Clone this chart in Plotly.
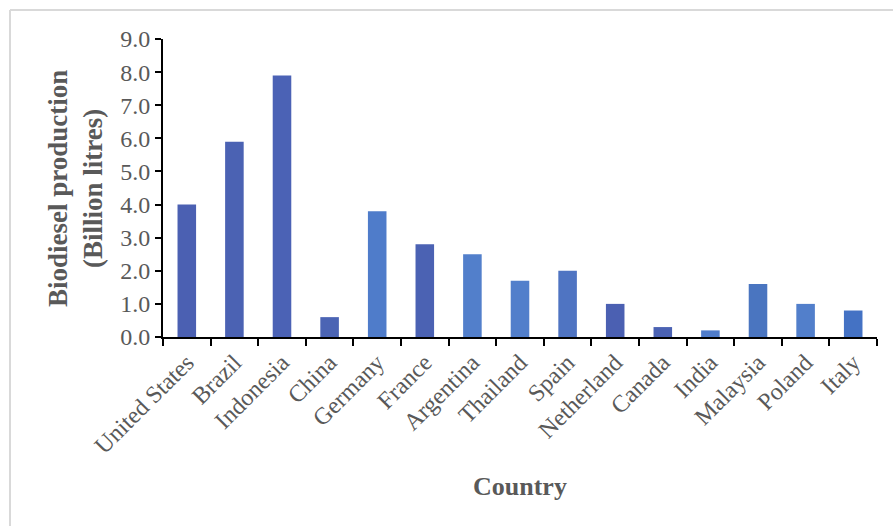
import plotly.graph_objects as go

countries = ["United States", "Brazil", "Indonesia", "China", "Germany", "France",
             "Argentina", "Thailand", "Spain", "Netherland", "Canada", "India",
             "Malaysia", "Poland", "Italy"]
production = [4.0, 5.9, 7.9, 0.6, 3.8, 2.8, 2.5, 1.7, 2.0, 1.0, 0.3, 0.2, 1.6, 1.0, 0.8]
bar_colors = ["#4b60b2", "#4b62b3", "#4b62b5", "#4b64b4", "#4f7cca", "#4b62b3",
              "#527fcb", "#527fcb", "#4f74c2", "#4b60b2", "#4b62b3", "#4f7cca",
              "#4a75c0", "#527fcb", "#4472c4"]
y_ticks = [0, 1, 2, 3, 4, 5, 6, 7, 8, 9]

W, H = 893, 526
L, R, T, B = 163, 16, 39, 189
pw, ph = W - L - R, H - T - B

fig = go.Figure(go.Bar(x=countries, y=production, marker=dict(color=bar_colors, line_width=0),
                       width=0.39))

fnt = "Liberation Serif, Times New Roman, serif"
fig.update_layout(
    width=W, height=H,
    margin=dict(l=L, r=R, t=T, b=B),
    paper_bgcolor="white", plot_bgcolor="rgba(0,0,0,0)",
    showlegend=False,
    font=dict(family=fnt, color="#595959", size=24),
    xaxis=dict(showline=True, linecolor="black", linewidth=2, ticks="outside",
               tickson="boundaries", ticklen=7, tickwidth=2, tickcolor="black",
               tickangle=-45, tickfont=dict(size=24, color="#595959"),
               showgrid=False),
    yaxis=dict(range=[0, 9], tickvals=y_ticks, tickformat=".1f", showline=True,
               linecolor="black", linewidth=2, ticks="outside", ticklen=6,
               tickwidth=2, tickcolor="black", showgrid=False, zeroline=False,
               tickfont=dict(size=24, color="#595959")),
    annotations=[
        dict(text="<b>Biodiesel production<br>(Billion litres)</b>", xref="paper", yref="paper",
             x=(75 - L) / pw, y=(H - B - 189) / ph, textangle=-90, showarrow=False,
             font=dict(size=27, color="#595959"), xanchor="center", yanchor="middle"),
        dict(text="<b>Country</b>", xref="paper", yref="paper",
             x=(520 - L) / pw, y=-(486 - (H - B)) / ph, showarrow=False,
             font=dict(size=26, color="#595959"), xanchor="center", yanchor="middle"),
    ],
    shapes=[
        dict(type="line", xref="paper", yref="paper", x0=(10 - L) / pw, x1=(W - L) / pw,
             y0=(H - B - 10) / ph, y1=(H - B - 10) / ph, line=dict(color="#d9d9d9", width=2)),
        dict(type="line", xref="paper", yref="paper", x0=(10 - L) / pw, x1=(10 - L) / pw,
             y0=(H - B - 10) / ph, y1=-(B) / ph, line=dict(color="#d9d9d9", width=2)),
    ],
)

fig.write_html("out.html")
